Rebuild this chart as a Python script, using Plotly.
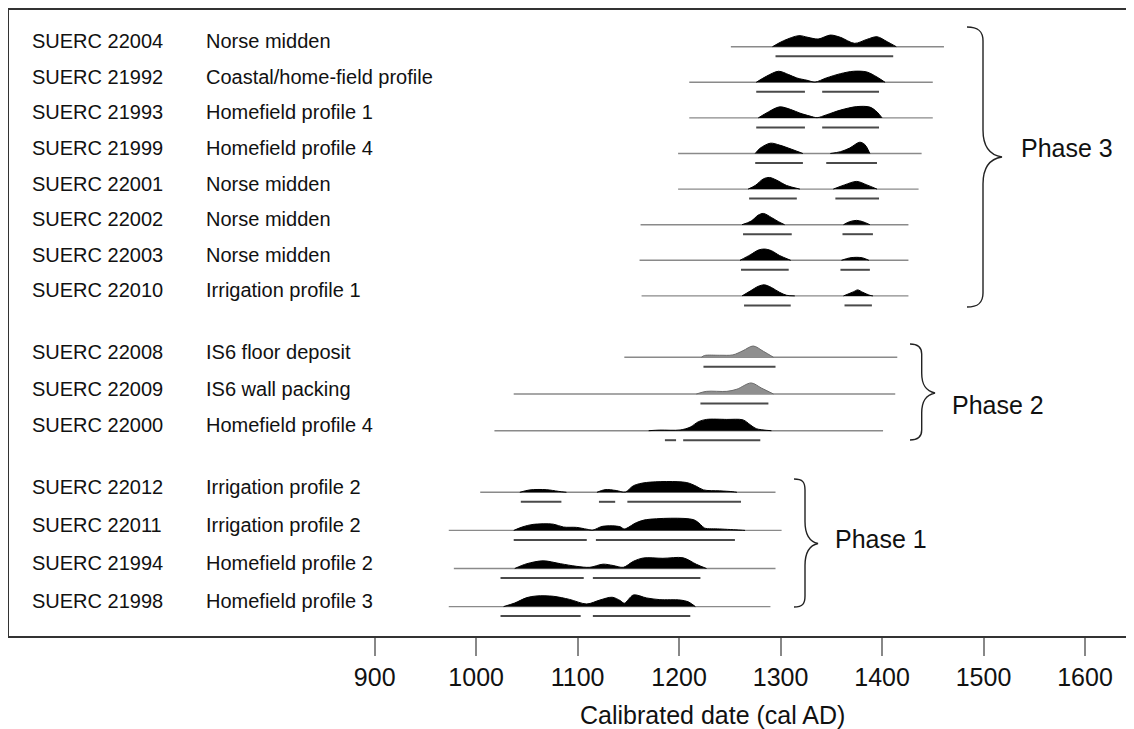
import plotly.graph_objects as go

# ---------------- data ----------------
lab_ids = ["SUERC 22004", "SUERC 21992", "SUERC 21993", "SUERC 21999", "SUERC 22001",
           "SUERC 22002", "SUERC 22003", "SUERC 22010",
           "SUERC 22008", "SUERC 22009", "SUERC 22000",
           "SUERC 22012", "SUERC 22011", "SUERC 21994", "SUERC 21998"]
contexts = ["Norse midden", "Coastal/home-field profile", "Homefield profile 1",
            "Homefield profile 4", "Norse midden", "Norse midden", "Norse midden",
            "Irrigation profile 1",
            "IS6 floor deposit", "IS6 wall packing", "Homefield profile 4",
            "Irrigation profile 2", "Irrigation profile 2", "Homefield profile 2",
            "Homefield profile 3"]
phase = [3, 3, 3, 3, 3, 3, 3, 3, 2, 2, 2, 1, 1, 1, 1]
shade = ["black"] * 8 + ["grey", "grey", "black"] + ["black"] * 4

# extent of the plotted calibration range (cal AD)
range_start = [1251, 1210, 1210, 1199, 1199, 1162, 1161, 1163, 1146, 1037, 1018, 1004, 973, 978, 973]
range_end = [1461, 1450, 1450, 1439, 1436, 1426, 1426, 1426, 1415, 1413, 1401, 1295, 1301, 1295, 1290]

# posterior / calibrated density outlines: (year, relative probability)
dens_year = [
    [1292, 1303, 1318, 1327, 1337, 1349, 1359, 1373, 1385, 1395, 1405, 1414],
    [1276, 1286, 1298, 1308, 1316, 1326, 1334, 1345, 1359, 1372, 1385, 1395, 1403],
    [1278, 1288, 1299, 1310, 1319, 1329, 1336, 1345, 1359, 1375, 1388, 1395, 1400],
    [1275, 1280, 1290, 1299, 1311, 1322, 1349, 1359, 1368, 1378, 1383, 1388],
    [1268, 1275, 1283, 1289, 1296, 1306, 1319, 1352, 1363, 1375, 1385, 1395],
    [1262, 1271, 1278, 1283, 1291, 1298, 1304, 1362, 1368, 1375, 1381, 1388],
    [1260, 1270, 1278, 1284, 1291, 1299, 1310, 1360, 1368, 1375, 1381, 1387],
    [1262, 1270, 1278, 1284, 1291, 1299, 1306, 1314, 1362, 1372, 1376, 1381, 1388, 1391],
    [1222, 1225, 1240, 1253, 1263, 1273, 1283, 1293],
    [1217, 1227, 1247, 1257, 1271, 1281, 1293],
    [1170, 1181, 1201, 1211, 1219, 1227, 1247, 1263, 1270, 1276, 1291],
    [1043, 1053, 1069, 1081, 1089, 1119, 1127, 1138, 1147, 1155, 1168, 1207, 1217, 1224, 1240, 1253, 1257],
    [1037, 1046, 1056, 1076, 1086, 1099, 1109, 1115, 1124, 1134, 1142, 1146, 1158, 1168, 1214, 1221,
     1225, 1240, 1260, 1265],
    [1038, 1050, 1066, 1083, 1099, 1112, 1125, 1135, 1145, 1155, 1165, 1184, 1204, 1217, 1227],
    [1027, 1038, 1050, 1060, 1076, 1092, 1109, 1122, 1134, 1142, 1146, 1155, 1168, 1181, 1201, 1209, 1216],
]
dens_prob = [
    [0, 0.50, 0.92, 0.78, 0.64, 0.97, 0.78, 0.28, 0.61, 0.83, 0.42, 0],
    [0, 0.50, 0.92, 0.64, 0.36, 0.17, 0.02, 0.36, 0.72, 0.92, 0.86, 0.44, 0],
    [0, 0.50, 0.92, 0.70, 0.40, 0.15, 0.02, 0.25, 0.65, 0.94, 0.90, 0.50, 0],
    [0, 0.45, 0.86, 0.70, 0.35, 0, 0, 0.15, 0.45, 0.94, 0.75, 0],
    [0, 0.30, 0.85, 0.97, 0.75, 0.30, 0, 0, 0.35, 0.64, 0.35, 0],
    [0, 0.30, 0.80, 0.94, 0.60, 0.25, 0, 0, 0.25, 0.36, 0.25, 0],
    [0, 0.45, 0.85, 0.94, 0.80, 0.40, 0, 0, 0.20, 0.25, 0.20, 0],
    [0, 0.40, 0.80, 0.92, 0.70, 0.30, 0.05, 0, 0, 0.35, 0.50, 0.30, 0.05, 0],
    [0, 0.15, 0.17, 0.20, 0.55, 0.94, 0.50, 0],
    [0, 0.22, 0.22, 0.40, 0.92, 0.50, 0],
    [0, 0.05, 0.06, 0.30, 0.75, 0.94, 0.94, 0.90, 0.50, 0.17, 0],
    [0, 0.20, 0.22, 0.08, 0, 0, 0.22, 0.15, 0.02, 0.55, 0.82, 0.82, 0.50, 0.20, 0.12, 0.05, 0],
    [0, 0.30, 0.50, 0.52, 0.28, 0.25, 0.10, 0.03, 0.33, 0.38, 0.30, 0.12, 0.65, 0.90, 0.90, 0.50,
     0.20, 0.12, 0.03, 0],
    [0, 0.40, 0.64, 0.40, 0.18, 0.10, 0.36, 0.25, 0.10, 0.60, 0.88, 0.85, 0.89, 0.35, 0],
    [0, 0.30, 0.75, 0.89, 0.86, 0.60, 0.22, 0.55, 0.78, 0.50, 0.28, 0.97, 0.72, 0.58, 0.55, 0.40, 0],
]
# highest posterior density ranges drawn beneath each distribution
hpd_ranges = [
    [(1295, 1411)],
    [(1276, 1324), (1341, 1397)],
    [(1276, 1324), (1341, 1397)],
    [(1275, 1322), (1345, 1395)],
    [(1269, 1316), (1354, 1397)],
    [(1263, 1311), (1361, 1391)],
    [(1261, 1308), (1359, 1388)],
    [(1264, 1310), (1363, 1390)],
    [(1224, 1295)],
    [(1221, 1288)],
    [(1186, 1197), (1204, 1280)],
    [(1044, 1084), (1121, 1137), (1149, 1261)],
    [(1037, 1109), (1118, 1255)],
    [(1024, 1106), (1115, 1221)],
    [(1024, 1103), (1115, 1211)],
]
phase_names = {3: "Phase 3", 2: "Phase 2", 1: "Phase 1"}
tick_years = [900, 1000, 1100, 1200, 1300, 1400, 1500, 1600]
x_title = "Calibrated date (cal AD)"

# ---------------- layout geometry (in screen pixels) ----------------
PAGE = 8                      # default body margin of the html page
SCREEN_W, SCREEN_H = 1134, 729
W, H = SCREEN_W - PAGE, SCREEN_H - PAGE
IMG_LEFT, IMG_TOP, IMG_BOTTOM, IMG_RIGHT = 9, 10, 636, SCREEN_W
ML, MT = IMG_LEFT - PAGE, IMG_TOP - PAGE
MR, MB = SCREEN_W - IMG_RIGHT, SCREEN_H - IMG_BOTTOM
PLOT_W = IMG_RIGHT - IMG_LEFT
PLOT_H = IMG_BOTTOM - IMG_TOP

PX_900, PX_PER_YEAR = 374.7, 1.0147
x_lo = 900 - (PX_900 - IMG_LEFT) / PX_PER_YEAR
x_hi = 900 + (IMG_RIGHT - PX_900) / PX_PER_YEAR

phase_top = {3: 46.7, 2: 357.3, 1: 492.3}
phase_step = {3: 35.6, 2: 36.7, 1: 38.1}
DENS_SCALE = 12.0     # px per unit probability
BAR_OFFSET = 9.5

FONT = "Arial, 'Liberation Sans', Helvetica, sans-serif"

def paper_x(px):
    return (px - IMG_LEFT) / PLOT_W

def paper_y(py):
    return (IMG_BOTTOM - py) / PLOT_H

row_y = []
counters = {}
for ph in phase:
    k = counters.get(ph, 0)
    row_y.append(phase_top[ph] + k * phase_step[ph])
    counters[ph] = k + 1

fig = go.Figure()

# baselines
bx, by = [], []
for s, e, yb in zip(range_start, range_end, row_y):
    bx += [s, e, None]
    by += [yb, yb, None]
fig.add_trace(go.Scatter(x=bx, y=by, mode="lines", line=dict(color="#8a8a8a", width=1.4),
                         hoverinfo="skip", showlegend=False))

# densities
fill_col = {"black": "#000000", "grey": "#8f8f8f"}
line_col = {"black": "#000000", "grey": "#6a6a6a"}
for xs, ps, yb, sh in zip(dens_year, dens_prob, row_y, shade):
    segs, cur = [], []
    for x, p in zip(xs, ps):
        cur.append((x, p))
        if p == 0 and len(cur) > 1:
            segs.append(cur)
            cur = [(x, p)]
    if len(cur) > 1:
        segs.append(cur)
    for seg in segs:
        if max(p for _, p in seg) == 0:
            continue
        fig.add_trace(go.Scatter(
            x=[x for x, _ in seg], y=[yb - p * DENS_SCALE for _, p in seg],
            mode="lines", fill="toself", fillcolor=fill_col[sh],
            line=dict(color=line_col[sh], width=1, shape="spline", smoothing=0.9),
            hoverinfo="skip", showlegend=False))

# HPD range bars
rx, ry = [], []
for rngs, yb in zip(hpd_ranges, row_y):
    for a, b in rngs:
        rx += [a, b, None]
        ry += [yb + BAR_OFFSET, yb + BAR_OFFSET, None]
fig.add_trace(go.Scatter(x=rx, y=ry, mode="lines", line=dict(color="#4a4a4a", width=2),
                         hoverinfo="skip", showlegend=False))

# row labels
ann = []
for lid, ctx, yb in zip(lab_ids, contexts, row_y):
    ann.append(dict(x=paper_x(30), xref="paper", y=yb - 5.5, yref="y", text=lid,
                    showarrow=False, xanchor="left", yanchor="middle",
                    font=dict(family=FONT, size=20, color="#111")))
    ann.append(dict(x=paper_x(204), xref="paper", y=yb - 5.5, yref="y", text=ctx,
                    showarrow=False, xanchor="left", yanchor="middle",
                    font=dict(family=FONT, size=20, color="#111")))

# phase braces and names
brace_geo = {3: (967, 983, 1002, 27, 307, 157, 14, 27, 1019, 148),
             2: (910, 921.7, 935, 344, 440, 393, 10, 20, 950, 405),
             1: (794, 805, 818, 479, 607, 543.5, 11, 22, 833, 539)}
shapes = []
for ph, (xl, xv, xt, y0, y1, ym, hk, md, tx, ty) in brace_geo.items():
    X = paper_x
    path = (f"M {X(xl)},{y0} C {X(xl + hk * 0.8)},{y0} {X(xv)},{y0 + hk * 0.3} {X(xv)},{y0 + hk} "
            f"L {X(xv)},{ym - md} C {X(xv)},{ym - md * 0.4} {X(xv + (xt - xv) * 0.3)},{ym - 2} {X(xt)},{ym} "
            f"C {X(xv + (xt - xv) * 0.3)},{ym + 2} {X(xv)},{ym + md * 0.4} {X(xv)},{ym + md} "
            f"L {X(xv)},{y1 - hk} C {X(xv)},{y1 - hk * 0.3} {X(xl + hk * 0.8)},{y1} {X(xl)},{y1}")
    shapes.append(dict(type="path", path=path, xref="paper", yref="y",
                       line=dict(color="#222", width=1.4)))
    ann.append(dict(x=paper_x(tx), xref="paper", y=ty, yref="y", text=phase_names[ph],
                    showarrow=False, xanchor="left", yanchor="middle",
                    font=dict(family=FONT, size=25, color="#111")))

# axis title
ann.append(dict(x=paper_x(712), xref="paper", y=paper_y(715), yref="paper",
                text=x_title, showarrow=False, xanchor="center", yanchor="middle",
                font=dict(family=FONT, size=25, color="#111")))

fig.update_layout(
    width=W, height=H, margin=dict(l=ML, r=MR, t=MT, b=MB, pad=0, autoexpand=False),
    plot_bgcolor="white", paper_bgcolor="white",
    annotations=ann, shapes=shapes, showlegend=False,
    xaxis=dict(range=[x_lo, x_hi], tickvals=tick_years, ticktext=[str(t) for t in tick_years],
               ticks="outside", ticklen=18, tickwidth=1.5, tickcolor="#888",
               showline=True, linecolor="#333", linewidth=1.5, mirror=True,
               showgrid=False, zeroline=False,
               tickfont=dict(family=FONT, size=25, color="#111")),
    yaxis=dict(range=[IMG_BOTTOM, IMG_TOP], showline=True, linecolor="#333", linewidth=1.5,
               showgrid=False, zeroline=False, showticklabels=False, ticks=""),
)

fig.write_html("out.html")
